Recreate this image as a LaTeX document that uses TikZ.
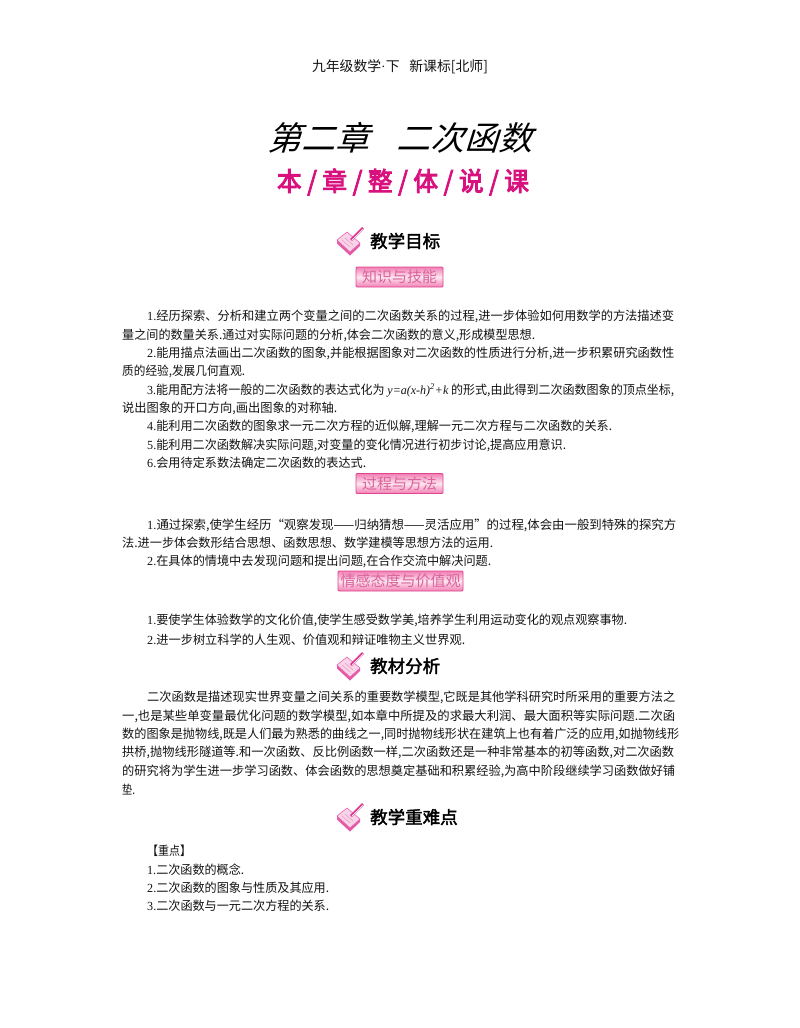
\documentclass[tikz,border=0pt]{standalone}
\usepackage{fontspec}
\usepackage{graphicx}
\setmainfont{Liberation Serif}
\newfontfamily\cjk{Noto Sans CJK SC}
\newfontfamily\cjkheavy{Noto Sans CJK SC}[FakeBold=2.2]
\newfontfamily\cjkblack{Noto Sans CJK SC}[FakeBold=3.5]
\newfontfamily\slantcjk{Noto Sans CJK SC}[FakeSlant=0.3]
\definecolor{magentaink}{HTML}{D8117F}
\definecolor{tagedge}{HTML}{E0468F}
\definecolor{tagdark}{HTML}{F27FB4}
\definecolor{taglight}{HTML}{FDE6F0}
\definecolor{tagtext}{HTML}{D9639C}
\definecolor{bodyink}{HTML}{141414}
\newcommand{\fitline}[5]{\node[bodyline] (#1) at (#2,#3) {\resizebox{#4pt}{\height}{\cjk #5}};}
\newcommand{\dg}[1]{{\rmfamily #1}}
\newcommand{\bookicon}[3]{%
  \begin{scope}[shift={(#2,#3)}]
    \coordinate (#1-l) at (0,8);
    \coordinate (#1-b) at (13,20);
    \coordinate (#1-r) at (23,11);
    \coordinate (#1-t) at (10,0);
    \fill[magentaink!70] (#1-l) -- ++(0,3.5) -- ++(13,12) -- ++(10,-9.5) -- (#1-r) -- (#1-b) -- cycle;
    \fill[pagepink,draw=magentaink!70,line width=.5pt] (#1-l) -- (#1-b) -- (#1-r) -- (#1-t) -- cycle;
    \draw[magentaink!45,line width=.5pt] (5,8) -- (13,15) (8,6) -- (16,13);
    \draw[magentaink!85,line width=2.6pt] (14,8) -- (26,-4);
    \draw[white,line width=.4pt] (15,8) -- (26,-3);
  \end{scope}}
\tikzset{
  x=1pt,y=-1pt,
  bodyline/.style={anchor=base west,inner sep=0pt,text=bodyink,font=\fontsize{12.4}{14}\selectfont},
  header/.style={inner sep=0pt,text=bodyink,font=\fontsize{14}{16}\selectfont\cjk},
  chaptertitle/.style={inner sep=0pt,text=black,font=\fontsize{33}{36}\selectfont\slantcjk},
  subtitle/.style={inner sep=0pt,text=magentaink,font=\fontsize{26}{30}\selectfont\cjkblack},
  sectionhead/.style={anchor=west,inner sep=0pt,text=black,font=\fontsize{17.5}{20}\selectfont\cjkheavy},
  tagbox/.style={rectangle,rounded corners=1pt,draw=tagedge,line width=.9pt,top color=tagdark,bottom color=tagdark,middle color=taglight,minimum height=20pt,inner sep=0pt,text=tagtext,font=\fontsize{15}{18}\selectfont\cjk},
}
\colorlet{pagepink}{magentaink!18}
\begin{document}
\begin{tikzpicture}
\useasboundingbox (0,0) rectangle (800,1028);
\fill[white] (0,0) rectangle (800,1028);

\node[header] (head) at (400,67) {\resizebox{176pt}{\height}{九年级数学\dg{·}下\hspace{.7em}新课标[北师]}};
\node[chaptertitle] (chap) at (400,138) {\resizebox{265pt}{\height}{第二章\hspace{.8em}二次函数}};
\node[subtitle] (sub) at (403,182) {\resizebox{252pt}{\height}{本 / 章 / 整 / 体 / 说 / 课}};

\bookicon{ia}{337}{232}
\node[sectionhead] (s1) at (370,241) {教学目标};
\node[tagbox,minimum width=87pt] (t1) at (399.5,277) {知识与技能};

\fitline{a1}{147}{320}{527}{\dg{1.}经历探索、分析和建立两个变量之间的二次函数关系的过程,进一步体验如何用数学的方法描述变}
\fitline{a2}{122}{339}{413}{量之间的数量关系.通过对实际问题的分析,体会二次函数的意义,形成模型思想.}
\fitline{a3}{147}{357}{527}{\dg{2.}能用描点法画出二次函数的图象,并能根据图象对二次函数的性质进行分析,进一步积累研究函数性}
\fitline{a4}{122}{375}{123}{质的经验,发展几何直观.}
\fitline{a5}{147}{394}{527}{\dg{3.}能用配方法将一般的二次函数的表达式化为 \dg{\itshape y=a(x-h)\textsuperscript{2}+k} 的形式,由此得到二次函数图象的顶点坐标,}
\fitline{a6}{122}{412}{215}{说出图象的开口方向,画出图象的对称轴.}
\fitline{a7}{147}{430}{465}{\dg{4.}能利用二次函数的图象求一元二次方程的近似解,理解一元二次方程与二次函数的关系.}
\fitline{a8}{147}{449}{419}{\dg{5.}能利用二次函数解决实际问题,对变量的变化情况进行初步讨论,提高应用意识.}
\fitline{a9}{147}{467}{219}{\dg{6.}会用待定系数法确定二次函数的表达式.}

\node[tagbox,minimum width=87pt] (t2) at (399.5,483.5) {过程与方法};

\fitline{b1}{147}{529}{529}{\dg{1.}通过探索,使学生经历“观察发现——归纳猜想——灵活应用”的过程,体会由一般到特殊的探究方}
\fitline{b2}{122}{547}{371}{法.进一步体会数形结合思想、函数思想、数学建模等思想方法的运用.}
\fitline{b3}{147}{565}{344}{\dg{2.}在具体的情境中去发现问题和提出问题,在合作交流中解决问题.}

\node[tagbox,minimum width=125pt] (t3) at (400.5,581) {情感态度与价值观};

\fitline{c1}{147}{624}{480}{\dg{1.}要使学生体验数学的文化价值,使学生感受数学美,培养学生利用运动变化的观点观察事物.}
\fitline{c2}{147}{644}{318}{\dg{2.}进一步树立科学的人生观、价值观和辩证唯物主义世界观.}

\bookicon{ib}{337}{657}
\node[sectionhead] (s2) at (370,666) {教材分析};

\fitline{d1}{147}{701}{528}{二次函数是描述现实世界变量之间关系的重要数学模型,它既是其他学科研究时所采用的重要方法之}
\fitline{d2}{122}{720}{553}{一,也是某些单变量最优化问题的数学模型,如本章中所提及的求最大利润、最大面积等实际问题.二次函}
\fitline{d3}{122}{738}{557}{数的图象是抛物线,既是人们最为熟悉的曲线之一,同时抛物线形状在建筑上也有着广泛的应用,如抛物线形}
\fitline{d4}{122}{756}{552}{拱桥,抛物线形隧道等.和一次函数、反比例函数一样,二次函数还是一种非常基本的初等函数,对二次函数}
\fitline{d5}{122}{775}{553}{的研究将为学生进一步学习函数、体会函数的思想奠定基础和积累经验,为高中阶段继续学习函数做好铺}
\fitline{d6}{122}{794}{13}{垫.}

\bookicon{ic}{337}{808}
\node[sectionhead] (s3) at (370,817) {教学重难点};

\fitline{e0}{147}{855}{44}{【重点】}
\fitline{e1}{147}{874}{97}{\dg{1.}二次函数的概念.}
\fitline{e2}{147}{892}{182}{\dg{2.}二次函数的图象与性质及其应用.}
\fitline{e3}{147}{910}{182}{\dg{3.}二次函数与一元二次方程的关系.}
\end{tikzpicture}
\end{document}
